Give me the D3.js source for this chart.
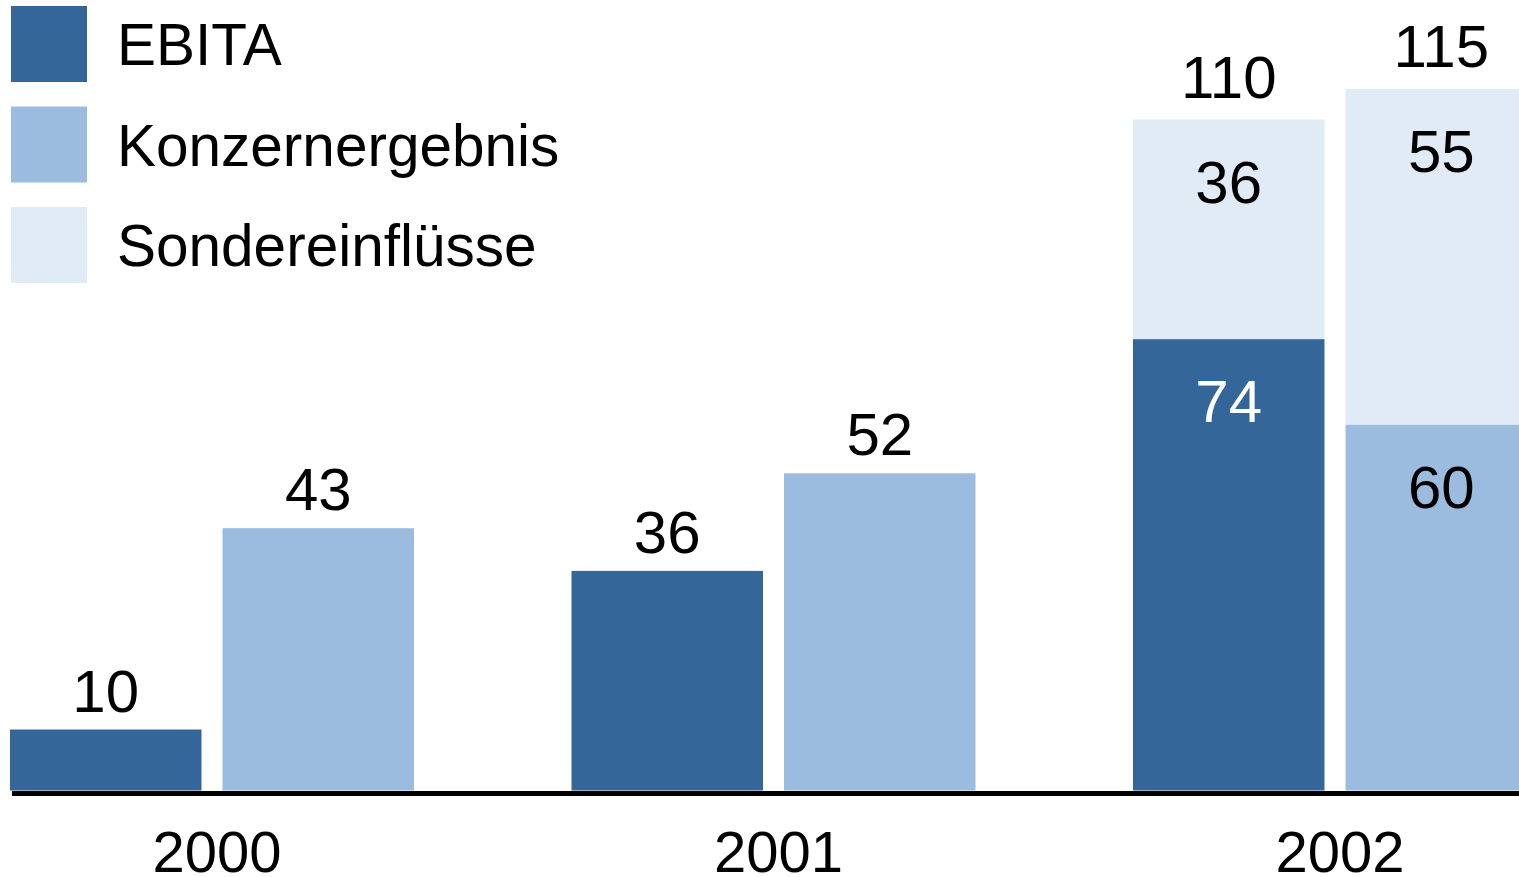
<!DOCTYPE html>
<html>
<head>
<meta charset="utf-8">
<script src="https://cdn.jsdelivr.net/npm/d3@7"></script>
<style>
  html, body { margin: 0; padding: 0; background: #ffffff; overflow: hidden; }
  svg { display: block; font-family: "Liberation Sans", Arial, sans-serif; }
</style>
</head>
<body>
<svg id="chart" width="1519" height="877"></svg>
<script>
// ---- data ----
const years = ["2000", "2001", "2002"];
const seriesNames = ["EBITA", "Konzernergebnis", "Sondereinflüsse"];
const ebita = [10, 36, 74];
const konzern = [43, 52, 60];
const sonderEbita = [0, 0, 36];
const sonderKonzern = [0, 0, 55];
const colors = ["#346699", "#9bbcdf", "#e1ebf6"];

// ---- layout ----
const W = 1519, H = 877;
const baseY = 790.5;
const pxPerUnit = 6.1;
const svg = d3.select("#chart");

const x0 = d3.scaleBand().domain(years).range([10, 1537]).paddingInner(0.2805).paddingOuter(0);
const x1 = d3.scaleBand().domain(["EBITA", "Konzernergebnis"]).range([0, x0.bandwidth()]).paddingInner(0.099).paddingOuter(0);
const y = d3.scaleLinear().domain([0, 115]).range([baseY, baseY - 115 * pxPerUnit]);

// build bar segments
const segs = [];
years.forEach((yr, i) => {
  const pairs = [
    { key: "EBITA", base: ebita[i], extra: sonderEbita[i] },
    { key: "Konzernergebnis", base: konzern[i], extra: sonderKonzern[i] }
  ];
  pairs.forEach(p => {
    const xx = x0(yr) + x1(p.key);
    const color = p.key === "EBITA" ? colors[0] : colors[1];
    segs.push({ x: xx, y0: 0, y1: p.base, color, value: p.base, key: p.key, stacked: p.extra > 0, layer: "base" });
    if (p.extra > 0) {
      segs.push({ x: xx, y0: p.base, y1: p.base + p.extra, color: colors[2], value: p.extra, key: p.key, stacked: true, layer: "extra" });
    }
  });
});

svg.append("g").selectAll("rect").data(segs).join("rect")
  .attr("x", d => d.x)
  .attr("y", d => y(d.y1))
  .attr("width", x1.bandwidth())
  .attr("height", d => y(d.y0) - y(d.y1))
  .attr("fill", d => d.color);

// value labels
const labels = svg.append("g").attr("font-size", 60).attr("text-anchor", "middle");
segs.forEach(d => {
  const cx = d.x + x1.bandwidth() / 2;
  if (d.stacked) {
    labels.append("text")
      .attr("x", cx).attr("y", y(d.y1) + 83)
      .attr("fill", d.key === "EBITA" && d.layer === "base" ? "#ffffff" : "#000000")
      .text(d.value);
    if (d.layer === "extra") {
      labels.append("text")
        .attr("x", cx).attr("y", y(d.y1) - 22)
        .attr("fill", "#000000")
        .text(d.y1);
    }
  } else {
    labels.append("text")
      .attr("x", cx).attr("y", y(d.y1) - 18)
      .attr("fill", "#000000")
      .text(d.value);
  }
});

// baseline axis
svg.append("line")
  .attr("x1", 12).attr("x2", W)
  .attr("y1", 793.5).attr("y2", 793.5)
  .attr("stroke", "#000000").attr("stroke-width", 5);

// year labels
svg.append("g").selectAll("text").data(years).join("text")
  .attr("x", d => x0(d) + x0.bandwidth() / 2 + 5)
  .attr("y", 872)
  .attr("text-anchor", "middle")
  .attr("font-size", 58)
  .attr("fill", "#000000")
  .text(d => d);

// legend
const legend = svg.append("g");
seriesNames.forEach((name, i) => {
  const top = 6 + i * 100.5;
  legend.append("rect").attr("x", 11).attr("y", top).attr("width", 76).attr("height", 76).attr("fill", colors[i]);
  legend.append("text").attr("x", 117).attr("y", top + 59)
    .attr("font-size", 58.5).attr("fill", "#000000").text(name);
});
</script>
</body>
</html>
